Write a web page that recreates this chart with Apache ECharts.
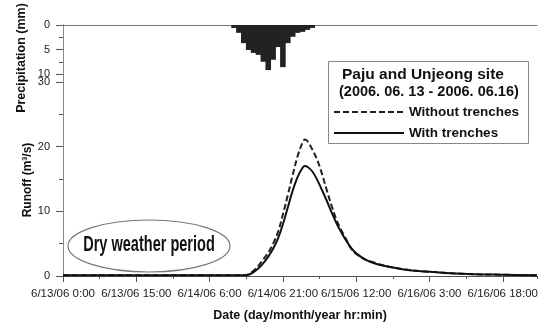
<!DOCTYPE html>
<html><head><meta charset="utf-8">
<script src="https://cdn.jsdelivr.net/npm/echarts@6.0.0/dist/echarts.min.js"></script>
<style>html,body{margin:0;padding:0;background:#fff}#c{width:547px;height:323px}</style>
</head><body><div id="c"></div>
<script>
// ---- data (hours since 6/13/06 0:00) ----
const xTickLabels = ['6/13/06 0:00','6/13/06 15:00','6/14/06 6:00','6/14/06 21:00','6/15/06 12:00','6/16/06 3:00','6/16/06 18:00'];
const precipHours  = [35,36,37,38,39,40,41,42,43,44,45,46,47,48,49,50,51];
const precipValues = [0.6,1.6,3.7,5.1,5.7,6.1,7.5,9.2,7.1,4.5,8.6,3.7,2.4,1.6,1.4,1.0,0.6];
const runoffHours     = [0,10,20,30,37,38,39,40,41,42,43,44,45,46,47,48,49,49.5,50,51,52,53,54,55,56,57,58,59,60,62,64,67,71,76,83,90,97];
const withoutTrenches = [0.1,0.1,0.1,0.1,0.1,0.3,0.8,1.6,2.6,3.6,5.0,6.8,9.5,12.5,15.6,18.5,20.6,21.1,20.9,19.6,18.0,15.8,13.2,10.8,8.6,7.0,5.6,4.2,3.4,2.5,2.0,1.4,0.9,0.6,0.3,0.2,0.1];
const withTrenches    = [0.1,0.1,0.1,0.1,0.1,0.2,0.6,1.2,2.0,3.0,4.2,5.8,8.0,10.6,13.2,15.3,16.7,17.0,16.9,16.2,14.9,13.3,11.6,9.8,8.1,6.7,5.4,4.3,3.5,2.5,1.9,1.4,0.9,0.6,0.3,0.2,0.1];
const xMaxHours = 97;

const FONT = "'Liberation Sans', Arial, sans-serif";
const axisCol = '#555';
const pair = (xs, ys) => xs.map((x, i) => [x, ys[i]]);

const chart = echarts.init(document.getElementById('c'), null, {renderer: 'canvas'});
chart.setOption({
  animation: false,
  backgroundColor: '#fff',
  textStyle: {fontFamily: FONT},
  grid: [
    {left: 63, right: 10, top: 25, height: 49, outerBoundsMode: 'none', containLabel: false},
    {left: 63, right: 10, top: 82, bottom: 47, outerBoundsMode: 'none', containLabel: false},
    {left: 63, right: 10, top: 25, bottom: 47, outerBoundsMode: 'none', containLabel: false}
  ],
  xAxis: [
    {gridIndex: 0, type: 'value', min: 0, max: xMaxHours, position: 'top',
     axisLine: {show: true, lineStyle: {color: '#777', width: 1}}, axisTick: {show: false},
     axisLabel: {show: false}, splitLine: {show: false}},
    {gridIndex: 1, type: 'value', min: 0, max: xMaxHours, interval: 15, position: 'bottom',
     axisLine: {show: true, lineStyle: {color: axisCol, width: 1}},
     axisTick: {show: true, length: 6, lineStyle: {color: axisCol}},
     axisLabel: {show: true, margin: 12, fontSize: 11.5, color: '#222', fontFamily: FONT,
       showMaxLabel: false,
       formatter: v => (v % 15 === 0 && v / 15 < xTickLabels.length) ? xTickLabels[v / 15] : ''},
     splitLine: {show: false},
     name: 'Date (day/month/year hr:min)', nameLocation: 'middle', nameGap: 33,
     nameTextStyle: {fontSize: 12.5, fontWeight: 'bold', color: '#111', fontFamily: FONT}},
    {gridIndex: 1, type: 'value', min: 0, max: xMaxHours, interval: 7.5, position: 'bottom',
     axisLine: {show: false}, axisTick: {show: true, length: 3, lineStyle: {color: axisCol}},
     axisLabel: {show: false}, splitLine: {show: false}},
    {gridIndex: 2, type: 'value', min: 0, max: xMaxHours, show: false}
  ],
  yAxis: [
    {gridIndex: 0, type: 'value', min: 0, max: 10, interval: 5, inverse: true,
     axisLine: {show: true, lineStyle: {color: axisCol}},
     axisTick: {show: true, length: 7, lineStyle: {color: axisCol}},
     minorTick: {show: true, splitNumber: 2, length: 4, lineStyle: {color: axisCol}},
     axisLabel: {fontSize: 11, color: '#222', margin: 13, fontFamily: FONT},
     splitLine: {show: false}},
    {gridIndex: 1, type: 'value', min: 0, max: 30, interval: 10,
     axisLine: {show: true, lineStyle: {color: axisCol}},
     axisTick: {show: true, length: 7, lineStyle: {color: axisCol}},
     minorTick: {show: true, splitNumber: 2, length: 4, lineStyle: {color: axisCol}},
     axisLabel: {fontSize: 11, color: '#222', margin: 13, fontFamily: FONT},
     splitLine: {show: false}},
    {gridIndex: 2, type: 'value', min: 0, max: 1, position: 'right',
     axisLine: {show: true, lineStyle: {color: '#888'}}, axisTick: {show: false},
     axisLabel: {show: false}, splitLine: {show: false}}
  ],
  legend: {
    orient: 'vertical', left: 333, top: 105, itemWidth: 70, itemHeight: 12, itemGap: 7,
    padding: 0, z: 20, itemStyle: {opacity: 0},
    textStyle: {fontSize: 13.5, fontWeight: 'bold', color: '#111', fontFamily: FONT},
    data: ['Without trenches', 'With trenches']
  },
  graphic: [
    {type: 'rect', z: 10, shape: {x: 328.5, y: 61.5, width: 200, height: 82},
     style: {fill: '#fff', stroke: '#888', lineWidth: 1}},
    {type: 'text', z: 11, x: 342, y: 75,
     style: {text: 'Paju and Unjeong site', font: 'bold 15.5px ' + FONT, fill: '#111', verticalAlign: 'middle'}},
    {type: 'text', z: 11, x: 339, y: 92,
     style: {text: '(2006. 06. 13 - 2006. 06.16)', font: 'bold 14.5px ' + FONT, fill: '#111', verticalAlign: 'middle'}},
    {type: 'text', x: 22, y: 58, rotation: Math.PI / 2,
     style: {text: 'Precipitation (mm)', font: 'bold 12.5px ' + FONT, fill: '#111', align: 'center', verticalAlign: 'middle'}},
    {type: 'text', x: 28, y: 180, rotation: Math.PI / 2,
     style: {text: 'Runoff (m³/s)', font: 'bold 12px ' + FONT, fill: '#111', align: 'center', verticalAlign: 'middle'}},
    {type: 'ellipse', shape: {cx: 149, cy: 246, rx: 81, ry: 26},
     style: {fill: 'none', stroke: '#777', lineWidth: 1.2}},
    {type: 'text', x: 149, y: 245, scaleX: 0.66,
     style: {text: 'Dry weather period', font: 'bold 22px ' + FONT, fill: '#111', align: 'center', verticalAlign: 'middle'}}
  ],
  series: [
    {type: 'bar', name: 'Precipitation', xAxisIndex: 0, yAxisIndex: 0, barWidth: 5.6,
     itemStyle: {color: '#222'}, data: pair(precipHours, precipValues)},
    {type: 'line', name: 'Without trenches', xAxisIndex: 1, yAxisIndex: 1, smooth: 0.35,
     showSymbol: false, symbol: 'none',
     lineStyle: {color: '#222', width: 2, type: [6, 3]}, itemStyle: {color: '#222'},
     data: pair(runoffHours, withoutTrenches)},
    {type: 'line', name: 'With trenches', xAxisIndex: 1, yAxisIndex: 1, smooth: 0.35,
     showSymbol: false, symbol: 'none',
     lineStyle: {color: '#111', width: 2, type: 'solid'}, itemStyle: {color: '#111'},
     data: pair(runoffHours, withTrenches)}
  ]
});
</script>
</body></html>
